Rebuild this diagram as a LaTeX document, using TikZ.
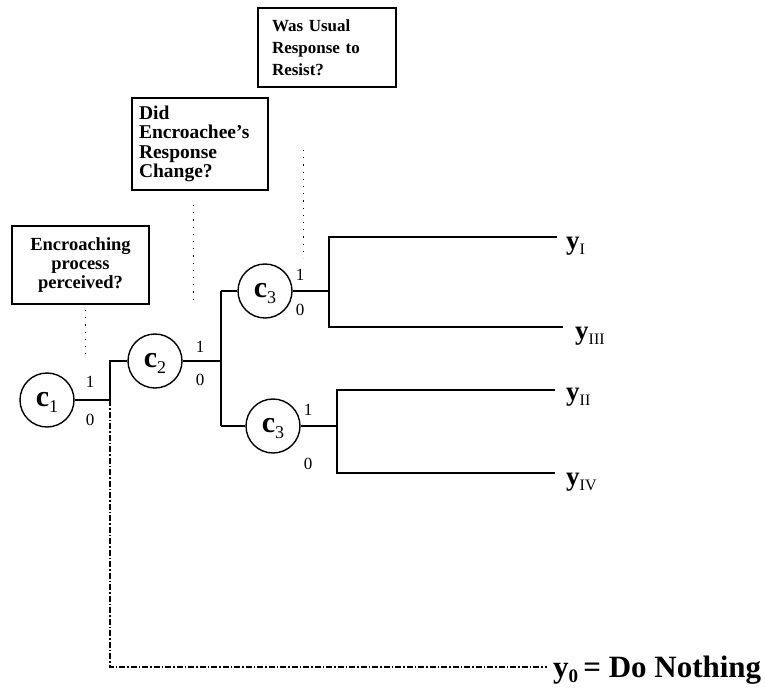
\documentclass[tikz,border=0pt]{standalone}
\usepackage{fontspec}
\setmainfont{Liberation Serif}
\begin{document}
\begin{tikzpicture}[x=1pt,y=-1pt,
  tree/.style={line width=1.6pt},
  cnode/.style={circle, draw, line width=1.4pt, minimum size=54pt, inner sep=0pt,
    font=\fontsize{30}{30}\selectfont\bfseries},
  qbox/.style={draw, line width=1.4pt, inner ysep=0pt, font=\fontsize{18.5}{19}\selectfont\bfseries},
  guide/.style={dash pattern=on 1.2pt off 6pt, line width=1pt},
  nothing/.style={dash pattern=on 6pt off 2pt on 1.5pt off 2pt, line width=1.2pt},
  bit/.style={inner sep=0pt, font=\fontsize{17}{17}\selectfont},
  outc/.style={anchor=base west, inner sep=0pt, font=\fontsize{27}{27}\selectfont\bfseries}
]
\useasboundingbox (0,0) rectangle (765,691);
\newcommand{\sbx}[1]{\raisebox{-6pt}[0pt][0pt]{\fontsize{18}{18}\selectfont\mdseries #1}}
\newcommand{\sby}[1]{\raisebox{-5pt}[0pt][0pt]{\fontsize{16}{16}\selectfont\mdseries #1}}

% question boxes
\node[qbox, minimum width=137pt, minimum height=78pt, align=center] (q1) at (80.5,265)
  {Encroaching\\process\\perceived?};
\node[qbox, text width=122pt, inner xsep=7pt, minimum height=92pt, align=left,
  font=\fontsize{19.5}{19.5}\selectfont\bfseries] (q2) at (200,144)
  {Did\\Encroachee's\\Response\\Change?};
\node[qbox, text width=110pt, inner xsep=14pt, minimum height=79pt, align=left,
  font=\fontsize{17}{22}\selectfont\bfseries] (q3) at (327,47.5)
  {Was Usual\\Response to\\Resist?};

% guide coordinates
\coordinate (g1a) at (85,310); \coordinate (g1b) at (85,357);
\coordinate (g2a) at (193,205); \coordinate (g2b) at (193,305);
\coordinate (g3a) at (303,150); \coordinate (g3b) at (303,258);
\draw[guide] (g1a) -- (g1b);
\draw[guide] (g2a) -- (g2b);
\draw[guide] (g3a) -- (g3b);

% chance nodes
\node[cnode] (c1) at (47,400) {c\sbx{1}};
\node[cnode] (c2) at (155,361) {c\sbx{2}};
\node[cnode] (c3a) at (265,291) {c\sbx{3}};
\node[cnode] (c3b) at (273,426) {c\sbx{3}};

% junctions
\coordinate (j1) at (110,400); \coordinate (j1top) at (110,361);
\coordinate (j2) at (221,361); \coordinate (j2top) at (221,291); \coordinate (j2bot) at (221,426);
\coordinate (j3) at (329,291); \coordinate (j3top) at (329,237); \coordinate (j3bot) at (329,327);
\coordinate (j4) at (337,426); \coordinate (j4top) at (337,390); \coordinate (j4bot) at (337,473);
\coordinate (eI) at (557,237); \coordinate (eIII) at (563,327);
\coordinate (eII) at (555,390); \coordinate (eIV) at (555,473);
\coordinate (dc) at (110,667); \coordinate (de) at (547,667);

\draw[tree] (c1) -- (j1) -- (j1top) -- (c2);
\draw[tree] (c2) -- (j2);
\draw[tree] (j2top) -- (j2bot);
\draw[tree] (j2top) -- (c3a);
\draw[tree] (j2bot) -- (c3b);
\draw[tree] (c3a) -- (j3);
\draw[tree] (eI) -- (j3top) -- (j3bot) -- (eIII);
\draw[tree] (c3b) -- (j4);
\draw[tree] (eII) -- (j4top) -- (j4bot) -- (eIV);
\draw[nothing] (j1) -- (dc) -- (de);

% branch labels
\node[bit] (b1a) at (90,382) {1};  \node[bit] (b1b) at (90,420) {0};
\node[bit] (b2a) at (200,347) {1}; \node[bit] (b2b) at (200,380) {0};
\node[bit] (b3a) at (300,275) {1}; \node[bit] (b3b) at (300,310) {0};
\node[bit] (b4a) at (308,410) {1}; \node[bit] (b4b) at (308,464) {0};

% outcomes
\node[outc] (yI) at (566,249) {y\sby{I}};
\node[outc] (yIII) at (575,339) {y\sby{III}};
\node[outc] (yII) at (566,400) {y\sby{II}};
\node[outc] (yIV) at (566,485) {y\sby{IV}};
\node[outc, font=\fontsize{31}{31}\selectfont\bfseries] (y0) at (553,677)
  {y\raisebox{-5pt}{\fontsize{19}{19}\selectfont 0}\,= Do Nothing};
\end{tikzpicture}
\end{document}
